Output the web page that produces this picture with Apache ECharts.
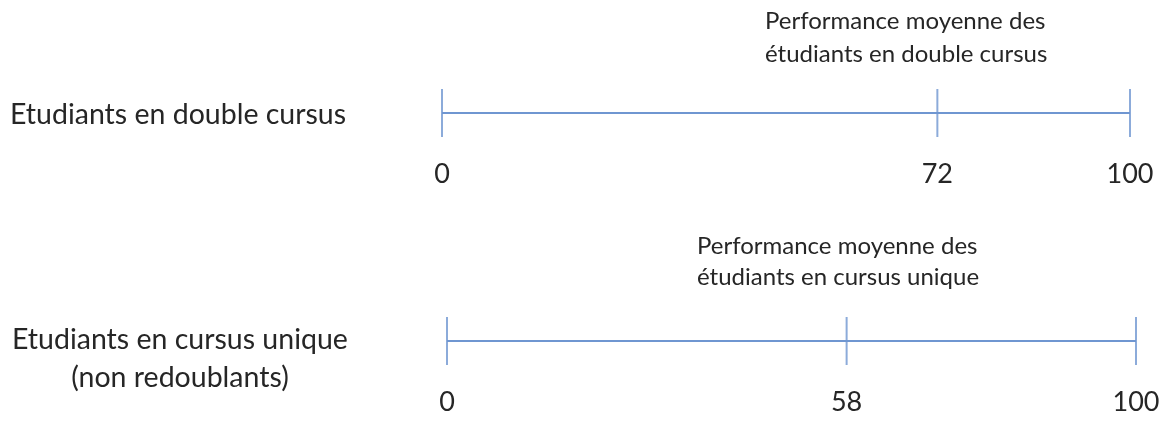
<!DOCTYPE html>
<html><head><meta charset="utf-8">
<script src="https://cdn.jsdelivr.net/npm/echarts@6/dist/echarts.min.js"></script>
<style>html,body{margin:0;padding:0;background:#fff}#c{width:1174px;height:423px}</style>
</head><body><div id="c"></div>
<script>
const groups = ["Etudiants en double cursus", "Etudiants en cursus unique\n(non redoublants)"];
const annotations = ["Performance moyenne des\nétudiants en double cursus", "Performance moyenne des\nétudiants en cursus unique"];
const scaleMin = 0;
const scaleMax = 100;
const means = [72, 58];

const FONT = "Lato";
const LINE = "#6f96d1";
const TXT = "#262626";
const chart = echarts.init(document.getElementById('c'));

const grids = [
  {left: 442, width: 688, top: 89, height: 48},
  {left: 447, width: 689, top: 317, height: 48}
];
const option = {
  animation: false,
  grid: grids,
  xAxis: grids.map((g, i) => ({
    type: 'value', gridIndex: i, min: scaleMin, max: scaleMax,
    axisLine: {show: false}, splitLine: {show: false},
    axisTick: {show: false},
    axisLabel: {customValues: [scaleMin, means[i], scaleMax], fontFamily: FONT, fontSize: 27, color: TXT, margin: 24}
  })),
  yAxis: grids.map((g, i) => ({type: 'value', gridIndex: i, min: -1, max: 1, show: false})),
  series: [],
  graphic: []
};
means.forEach((m, i) => {
  option.series.push({
    type: 'line', xAxisIndex: i, yAxisIndex: i, symbol: 'none',
    lineStyle: {color: LINE, width: 2},
    data: [[scaleMin, 0], [scaleMax, 0]]
  });
  option.series.push({
    type: 'scatter', xAxisIndex: i, yAxisIndex: i, symbol: 'rect', symbolSize: [2, 48],
    itemStyle: {color: LINE},
    data: [[scaleMin, 0], [m, 0], [scaleMax, 0]]
  });
});
option.graphic = [
  {type: 'text', left: 10, top: 100, style: {text: groups[0], font: `28.5px "${FONT}"`, fill: TXT}},
  {type: 'text', left: 12, top: 321, style: {text: groups[1], font: `28.5px "${FONT}"`, fill: TXT, lineHeight: 38, textAlign: 'center'}},
  {type: 'text', left: 765, top: 5, style: {text: annotations[0], font: `24px "${FONT}"`, fill: TXT, lineHeight: 33}},
  {type: 'text', left: 697, top: 231, style: {text: annotations[1], font: `24px "${FONT}"`, fill: TXT, lineHeight: 31}}
];
chart.setOption(option);
</script></body></html>
